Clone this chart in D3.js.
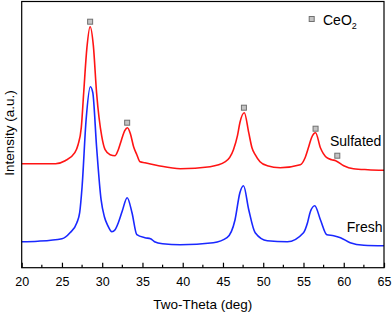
<!DOCTYPE html>
<html>
<head>
<meta charset="utf-8">
<script src="https://cdn.jsdelivr.net/npm/d3@7"></script>
<style>
  body { margin: 0; background: #fff; }
  text { font-family: "Liberation Sans", Arial, sans-serif; }
</style>
</head>
<body>
<script>
/* XRD patterns, CeO2 fresh vs sulfated */

var widthMax = 392;
var heightMax = 314;

// two-theta (deg) / intensity (a.u.)
var sulfatedTheta = [20, 22, 24.2, 25.4, 26.6, 27, 27.4, 27.7, 28.1, 28.5, 28.9, 29.3, 29.95, 30.36, 30.98, 31.6, 32, 32.4, 32.8, 33.13, 33.5, 33.9, 34.3, 34.7, 35.3, 37, 39.7, 43.4, 45.3, 46.3, 46.8, 47.1, 47.65, 48.2, 48.6, 49, 49.6, 50.5, 52.1, 54.6, 55.2, 55.65, 56, 56.5, 57.1, 57.9, 58.5, 59, 60, 61.2, 63, 65];
var sulfatedI = [104, 104, 104, 107, 115, 123, 140, 175, 220, 241, 222, 175, 131, 118, 113, 112, 118, 128, 137, 140, 134, 121, 113, 106, 105, 102, 99, 101, 106, 118, 132, 145, 155, 135, 120, 113, 106, 102, 100, 103, 110, 121, 130, 135, 120, 110, 108, 107, 102, 99, 98, 97.5];

var freshTheta = [20, 22, 25, 26, 26.85, 27.2, 27.5, 28, 28.53, 28.83, 29.3, 29.86, 30.27, 30.7, 31.2, 31.6, 32, 32.5, 33.1, 33.7, 34.3, 35.3, 36, 36.5, 37.5, 39.7, 43.8, 45.5, 46.5, 47.1, 47.55, 48.2, 49, 50.5, 53, 55, 55.5, 55.85, 56.4, 57.1, 57.9, 58.75, 59.6, 60.8, 62.5, 65];
var freshI = [26, 26.5, 29, 35, 45, 55, 81, 148, 181, 175, 121, 68, 51, 42, 36, 38, 45, 57, 70, 55, 33, 30, 29, 26, 24, 23, 25, 30, 48, 75, 82, 58, 35, 27, 26, 35, 45, 56, 62, 48, 33, 32, 30, 25, 22.5, 22];

// CeO2 reflections marked on the sulfated pattern
var markTheta = [28.5, 33.1, 47.6, 56.5, 59.2];
var markI = [246, 145, 160, 139, 112];

var xTicks = [20, 25, 30, 35, 40, 45, 50, 55, 60, 65];
var xMinor = d3.range(22.5, 65, 5);

var plotLeft = 21.7, plotRight = 384, plotTop = 1.5, plotBottom = 267.7;

var svg = d3.select("body").append("svg")
	.attr("width", widthMax)
	.attr("height", heightMax);

var x = d3.scaleLinear().domain([20, 65]).range([plotLeft, plotRight]);
var y = d3.scaleLinear().domain([0, 266.2]).range([plotBottom, plotTop]);

var line = d3.line()
	.x(function(d) { return x(d[0]); })
	.y(function(d) { return y(d[1]); })
	.curve(d3.curveMonotoneX);

svg.append("path")
	.datum(d3.zip(freshTheta, freshI))
	.attr("d", line)
	.attr("fill", "none")
	.attr("stroke", "#1a28ff")
	.attr("stroke-width", 1.6);

svg.append("path")
	.datum(d3.zip(sulfatedTheta, sulfatedI))
	.attr("d", line)
	.attr("fill", "none")
	.attr("stroke", "#ff1414")
	.attr("stroke-width", 1.6);

svg.selectAll("rect.mark")
	.data(d3.zip(markTheta, markI))
	.enter().append("rect")
	.attr("class", "mark")
	.attr("x", function(d) { return x(d[0]) - 2.5; })
	.attr("y", function(d) { return y(d[1]) - 2.5; })
	.attr("width", 5)
	.attr("height", 5)
	.attr("fill", "#c4c4c4")
	.attr("stroke", "#707070")
	.attr("stroke-width", 1);

// frame
svg.append("rect")
	.attr("x", plotLeft).attr("y", plotTop)
	.attr("width", plotRight - plotLeft).attr("height", plotBottom - plotTop)
	.attr("fill", "none")
	.attr("stroke", "black")
	.attr("stroke-width", 1.2);

// bottom axis, ticks pointing in
var xAxis = svg.append("g")
	.attr("transform", "translate(0," + plotBottom + ")")
	.call(d3.axisBottom(x).tickValues(xTicks).tickSize(-5).tickPadding(9).tickFormat(d3.format("d")));
xAxis.select(".domain").remove();
xAxis.selectAll("text").attr("font-size", 12.5).attr("fill", "black");
xAxis.selectAll("line").attr("stroke-width", 1.2);

svg.append("g")
	.attr("transform", "translate(0," + plotBottom + ")")
	.selectAll("line")
	.data(xMinor)
	.enter().append("line")
	.attr("x1", function(d) { return x(d); })
	.attr("x2", function(d) { return x(d); })
	.attr("y1", 0)
	.attr("y2", -3)
	.attr("stroke", "black")
	.attr("stroke-width", 1.2);

svg.append("text")
	.attr("x", (plotLeft + plotRight) / 2)
	.attr("y", 309)
	.attr("text-anchor", "middle")
	.attr("font-size", 13.5)
	.text("Two-Theta (deg)");

svg.append("text")
	.attr("transform", "translate(14,133) rotate(-90)")
	.attr("text-anchor", "middle")
	.attr("font-size", 13.5)
	.text("Intensity (a.u.)");

// legend
svg.append("rect")
	.attr("x", 309.2).attr("y", 16.5)
	.attr("width", 5).attr("height", 5)
	.attr("fill", "#c4c4c4")
	.attr("stroke", "#707070");

var ceo = svg.append("text")
	.attr("x", 323)
	.attr("y", 25)
	.attr("font-size", 14)
	.text("CeO");
ceo.append("tspan")
	.attr("font-size", 9)
	.attr("dy", 4)
	.text("2");

svg.append("text")
	.attr("x", 330)
	.attr("y", 145.7)
	.attr("font-size", 14)
	.text("Sulfated");

svg.append("text")
	.attr("x", 346.7)
	.attr("y", 231.7)
	.attr("font-size", 14)
	.text("Fresh");
</script>
</body>
</html>
